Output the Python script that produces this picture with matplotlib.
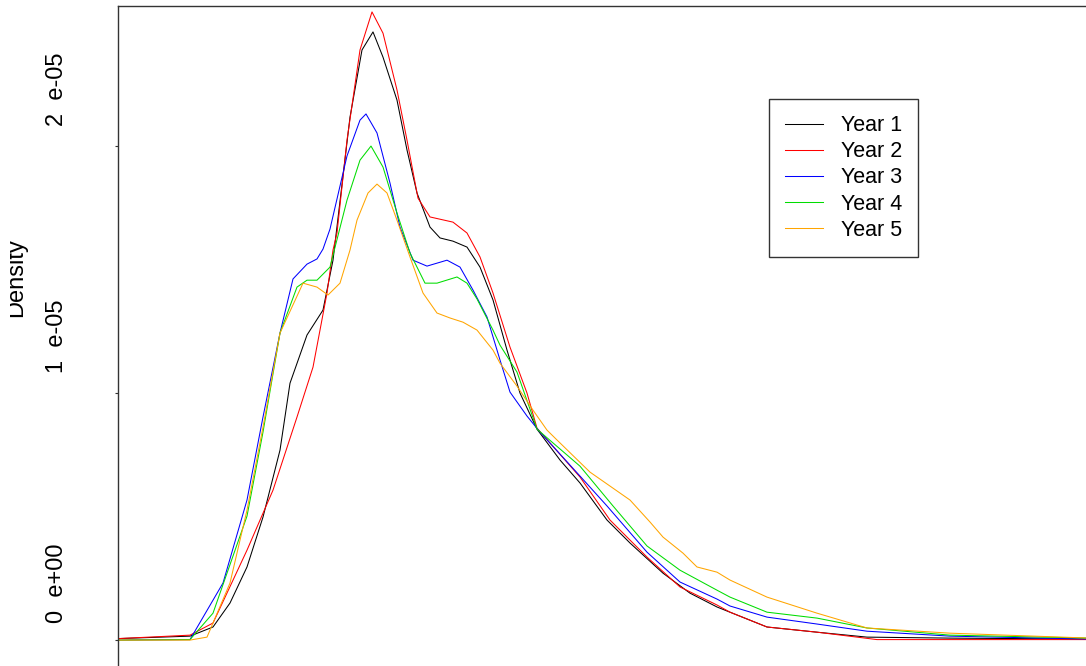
import matplotlib
matplotlib.use("Agg")
import matplotlib.pyplot as plt
from matplotlib.transforms import ScaledTranslation, Bbox, TransformedBbox

plt.rcParams["font.family"] = ["Liberation Sans", "DejaVu Sans"]

# density curves, values in units of 1e-06, x in plot units
year1_x = [0, 72, 95, 112, 129, 145, 162, 172, 189, 205, 215, 232, 244, 255, 265, 279, 289, 299, 312, 322, 335, 349, 362, 375, 389, 402, 419, 442, 462, 489, 512, 545, 572, 599, 649, 699, 749, 832, 972]
year1_y = [0.06, 0.16, 0.53, 1.50, 2.96, 4.98, 7.69, 10.40, 12.35, 13.36, 15.38, 21.17, 23.89, 24.62, 23.60, 21.86, 19.84, 18.10, 16.72, 16.28, 16.15, 15.91, 15.10, 13.77, 11.74, 10.00, 8.54, 7.29, 6.36, 4.86, 3.93, 2.71, 1.90, 1.34, 0.53, 0.32, 0.12, 0.08, 0.04]

year2_x = [0, 72, 95, 129, 155, 179, 195, 209, 215, 219, 229, 242, 254, 265, 279, 289, 300, 312, 335, 349, 362, 375, 392, 409, 419, 462, 492, 529, 562, 599, 612, 649, 699, 759, 832, 972]
year2_y = [0.06, 0.20, 0.69, 3.64, 6.07, 9.03, 11.05, 14.05, 15.79, 16.48, 20.24, 23.89, 25.43, 24.57, 22.27, 20.24, 17.89, 17.13, 16.92, 16.48, 15.51, 14.05, 11.86, 10.00, 8.58, 6.60, 4.86, 3.36, 2.15, 1.42, 1.13, 0.53, 0.32, 0.02, 0.02, 0.02]

year3_x = [0, 72, 105, 129, 145, 162, 175, 189, 199, 205, 212, 229, 242, 248, 259, 272, 282, 295, 309, 329, 342, 355, 369, 382, 392, 409, 422, 462, 489, 529, 562, 599, 612, 649, 699, 749, 832, 972]
year3_y = [0.00, 0.02, 2.31, 5.67, 9.03, 12.43, 14.62, 15.22, 15.43, 15.83, 16.64, 19.60, 21.05, 21.30, 20.53, 18.50, 16.72, 15.38, 15.14, 15.38, 15.10, 14.17, 13.08, 11.34, 10.04, 9.07, 8.42, 6.64, 5.43, 3.56, 2.35, 1.66, 1.38, 0.93, 0.65, 0.36, 0.16, 0.04]

year4_x = [0, 72, 95, 129, 145, 162, 179, 189, 199, 212, 229, 242, 253, 265, 279, 292, 307, 319, 339, 349, 359, 375, 382, 399, 419, 462, 495, 529, 562, 599, 612, 649, 699, 749, 832, 972]
year4_y = [0.00, 0.02, 1.09, 5.02, 8.42, 12.43, 14.29, 14.57, 14.57, 15.10, 17.81, 19.43, 20.00, 19.15, 17.29, 15.67, 14.45, 14.45, 14.70, 14.45, 13.81, 12.55, 11.94, 10.85, 8.54, 7.04, 5.43, 3.81, 2.83, 2.02, 1.74, 1.13, 0.89, 0.49, 0.20, 0.08]

year5_x = [0, 72, 89, 112, 129, 145, 162, 185, 199, 210, 222, 232, 239, 250, 259, 269, 279, 292, 305, 319, 332, 345, 359, 375, 382, 399, 415, 429, 439, 472, 512, 532, 545, 565, 579, 599, 612, 649, 699, 749, 832, 972]
year5_y = [0.00, 0.00, 0.12, 2.31, 5.26, 8.62, 12.43, 14.45, 14.29, 13.97, 14.45, 15.79, 17.00, 18.10, 18.46, 18.10, 17.00, 15.51, 14.05, 13.24, 13.04, 12.87, 12.55, 11.74, 11.21, 10.28, 9.31, 8.50, 8.10, 6.80, 5.67, 4.78, 4.17, 3.52, 2.96, 2.75, 2.43, 1.74, 1.09, 0.49, 0.28, 0.08]

labels = ["Year 1", "Year 2", "Year 3", "Year 4", "Year 5"]
colors = ["black", "red", "blue", "#00dd00", "orange"]
ytick_vals = [0, 1e-05, 2e-05]
ytick_labels = ["0  e+00", "1  e-05", "2  e-05"]

W, H = 1086, 666
fig = plt.figure(figsize=(W / 100, H / 100), dpi=100)
ax = fig.add_axes([118 / W, -2 / H, (1092 - 118) / W, (668 - 6) / H])

series = [(year1_x, year1_y), (year2_x, year2_y), (year3_x, year3_y),
          (year4_x, year4_y), (year5_x, year5_y)]
for (xs, ys), lab, col in zip(series, labels, colors):
    ax.plot(xs, [v * 1e-06 for v in ys], color=col, lw=0.75, label=lab)

ax.set_xlim(0, 974)
ax.set_ylim(-0.113e-05, 2.567e-05)
ax.set_xticks([])
ax.set_yticks(ytick_vals)
ax.set_yticklabels(ytick_labels, rotation=90, va="center", ha="center", fontsize=17)
ax.tick_params(axis="y", length=2, pad=42, color="#333333")
shift = ScaledTranslation(0, 57 / 100, fig.dpi_scale_trans)
for t in ax.get_yticklabels():
    t.set_transform(t.get_transform() + shift)

for side in ["bottom", "right"]:
    ax.spines[side].set_visible(False)
for side in ["left", "top"]:
    ax.spines[side].set_color("#333333")
    ax.spines[side].set_linewidth(1.0)

leg = ax.legend(loc="upper left", bbox_to_anchor=(769 / W, 1 - 99 / H),
                bbox_transform=fig.transFigure, borderaxespad=0, fontsize=15.5,
                frameon=True, fancybox=False, handlelength=1.75,
                handletextpad=0.84, labelspacing=0.24, borderpad=0.75)
leg.get_frame().set_edgecolor("black")
leg.get_frame().set_linewidth(1.0)

ylab = fig.text(16 / W, 1 - 278 / H, "Density", rotation=90, fontsize=17,
                ha="center", va="center")
ylab.set_clip_box(TransformedBbox(Bbox([[10 / W, 0], [1, 1]]), fig.transFigure))
ylab.set_clip_on(True)

fig.savefig("out.png", dpi=100)
